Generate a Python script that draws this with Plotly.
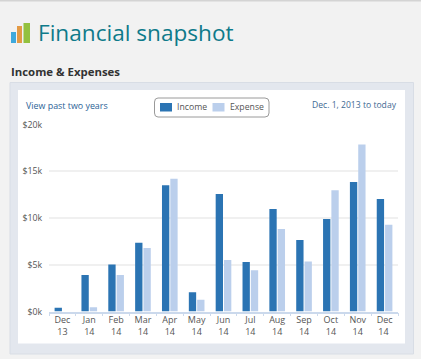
import plotly.graph_objects as go

months = ["Dec<br>13", "Jan<br>14", "Feb<br>14", "Mar<br>14", "Apr<br>14", "May<br>14", "Jun<br>14",
          "Jul<br>14", "Aug<br>14", "Sep<br>14", "Oct<br>14", "Nov<br>14", "Dec<br>14 "]
income = [400, 3900, 5030, 7350, 13500, 2070, 12570, 5290, 10960, 7640, 9900, 13860, 12040]
expense = [0, 450, 3900, 6800, 14200, 1250, 5500, 4400, 8820, 5360, 12960, 17860, 9290]
y_ticks = [0, 5000, 10000, 15000, 20000]
y_labels = ["$0k", "$5k", "$10k", "$15k", "$20k"]

W, H = 421, 359
INCOME_C, EXPENSE_C = "#2b74b3", "#bbcfec"
FONT = "Open Sans"


def px(x):
    return x / W


def py(y):
    return 1 - y / H


def rect(x0, y0, x1, y1, fill, line=None, width=0):
    return dict(type="rect", xref="paper", yref="paper", x0=px(x0), x1=px(x1), y0=py(y1), y1=py(y0),
                fillcolor=fill, line=dict(color=line or fill, width=width), layer="below")


def label(x, y, text, size, color, anchor="left", family=FONT):
    return dict(xref="paper", yref="paper", x=px(x), y=py(y), text=text, showarrow=False, xanchor=anchor,
                yanchor="middle", xshift=0, font=dict(size=size, color=color, family=family))


fig = go.Figure()
fig.add_bar(x=months, y=income, name="Income", marker=dict(color=INCOME_C, line=dict(color="#e4ecf7", width=0)))
fig.add_bar(x=months, y=expense, name="Expense", marker=dict(color=EXPENSE_C, line=dict(color="#e4ecf7", width=0)))

shapes = [
    rect(0, 0, W, 1.5, "#d4d4d4"),
    rect(10, 82.5, 413.5, 354, "#e3e7ee", "#d8dde5", 1),
    rect(18, 90, 405, 343.5, "#ffffff"),
    rect(11, 32, 16, 43, "#3fa9dc"),
    rect(17, 26, 22, 43, "#e39a45"),
    rect(23.5, 23, 30, 43, "#93c13e"),
    dict(type="path", xref="paper", yref="paper", layer="above",
         path=(f"M {px(158)} {py(98)} L {px(265)} {py(98)} Q {px(269)} {py(98)} {px(269)} {py(102)} "
               f"L {px(269)} {py(113)} Q {px(269)} {py(117)} {px(265)} {py(117)} L {px(158)} {py(117)} "
               f"Q {px(154.5)} {py(117)} {px(154.5)} {py(113)} L {px(154.5)} {py(102)} "
               f"Q {px(154.5)} {py(98)} {px(158)} {py(98)} Z"),
         fillcolor="#ffffff", line=dict(color="#9a9a9a", width=1)),
    dict(rect(160, 103, 172, 111.5, INCOME_C), layer="above"),
    dict(rect(212.5, 103, 224.5, 111.5, EXPENSE_C), layer="above"),
]

annotations = [
    label(35.5, 32.5, "Financial snapshot", 22.6, "#0e7a8a"),
    label(9, 71, "<b>Income &amp; Expenses</b>", 11.4, "#333333"),
    label(24, 105, "View past two years", 8.9, "#2b6296"),
    label(399, 105, "Dec. 1, 2013 to today", 8.6, "#3f6a93", "right"),
    label(174.5, 107.5, "Income", 8.7, "#555555"),
    label(227.5, 107.5, "Expense", 8.7, "#555555"),
]

fig.update_layout(
    width=W, height=H, margin=dict(l=0, r=0, t=0, b=0), autosize=False,
    paper_bgcolor="#f2f2f2", plot_bgcolor="rgba(0,0,0,0)",
    barmode="group", bargap=0.38, bargroupgap=0.12, showlegend=False,
    shapes=shapes, annotations=annotations,
    font=dict(family=FONT, size=9, color="#555555"),
    xaxis=dict(domain=[px(49), px(398)], anchor="y", type="category", showgrid=False, tickfont=dict(size=9),
               showline=True, linecolor="#cbd9ec", linewidth=1.5, ticks="outside", ticklen=3, tickwidth=1,
               tickcolor="#cbd9ec", tickson="boundaries", ticklabelstandoff=-1, tickangle=0,
               automargin=False),
    yaxis=dict(domain=[py(311.5), py(124.5)], range=[0, 20000], tickvals=y_ticks, ticktext=y_labels,
               gridcolor="#f0f0f0", gridwidth=1.5, zeroline=False, showline=False, ticklen=4,
               ticks="outside", tickcolor="rgba(0,0,0,0)", tickfont=dict(size=8.8), automargin=False),
)

fig.write_html("out.html", config=dict(displayModeBar=False),
               post_script="document.body.style.margin='0';document.body.style.overflow='hidden';")
